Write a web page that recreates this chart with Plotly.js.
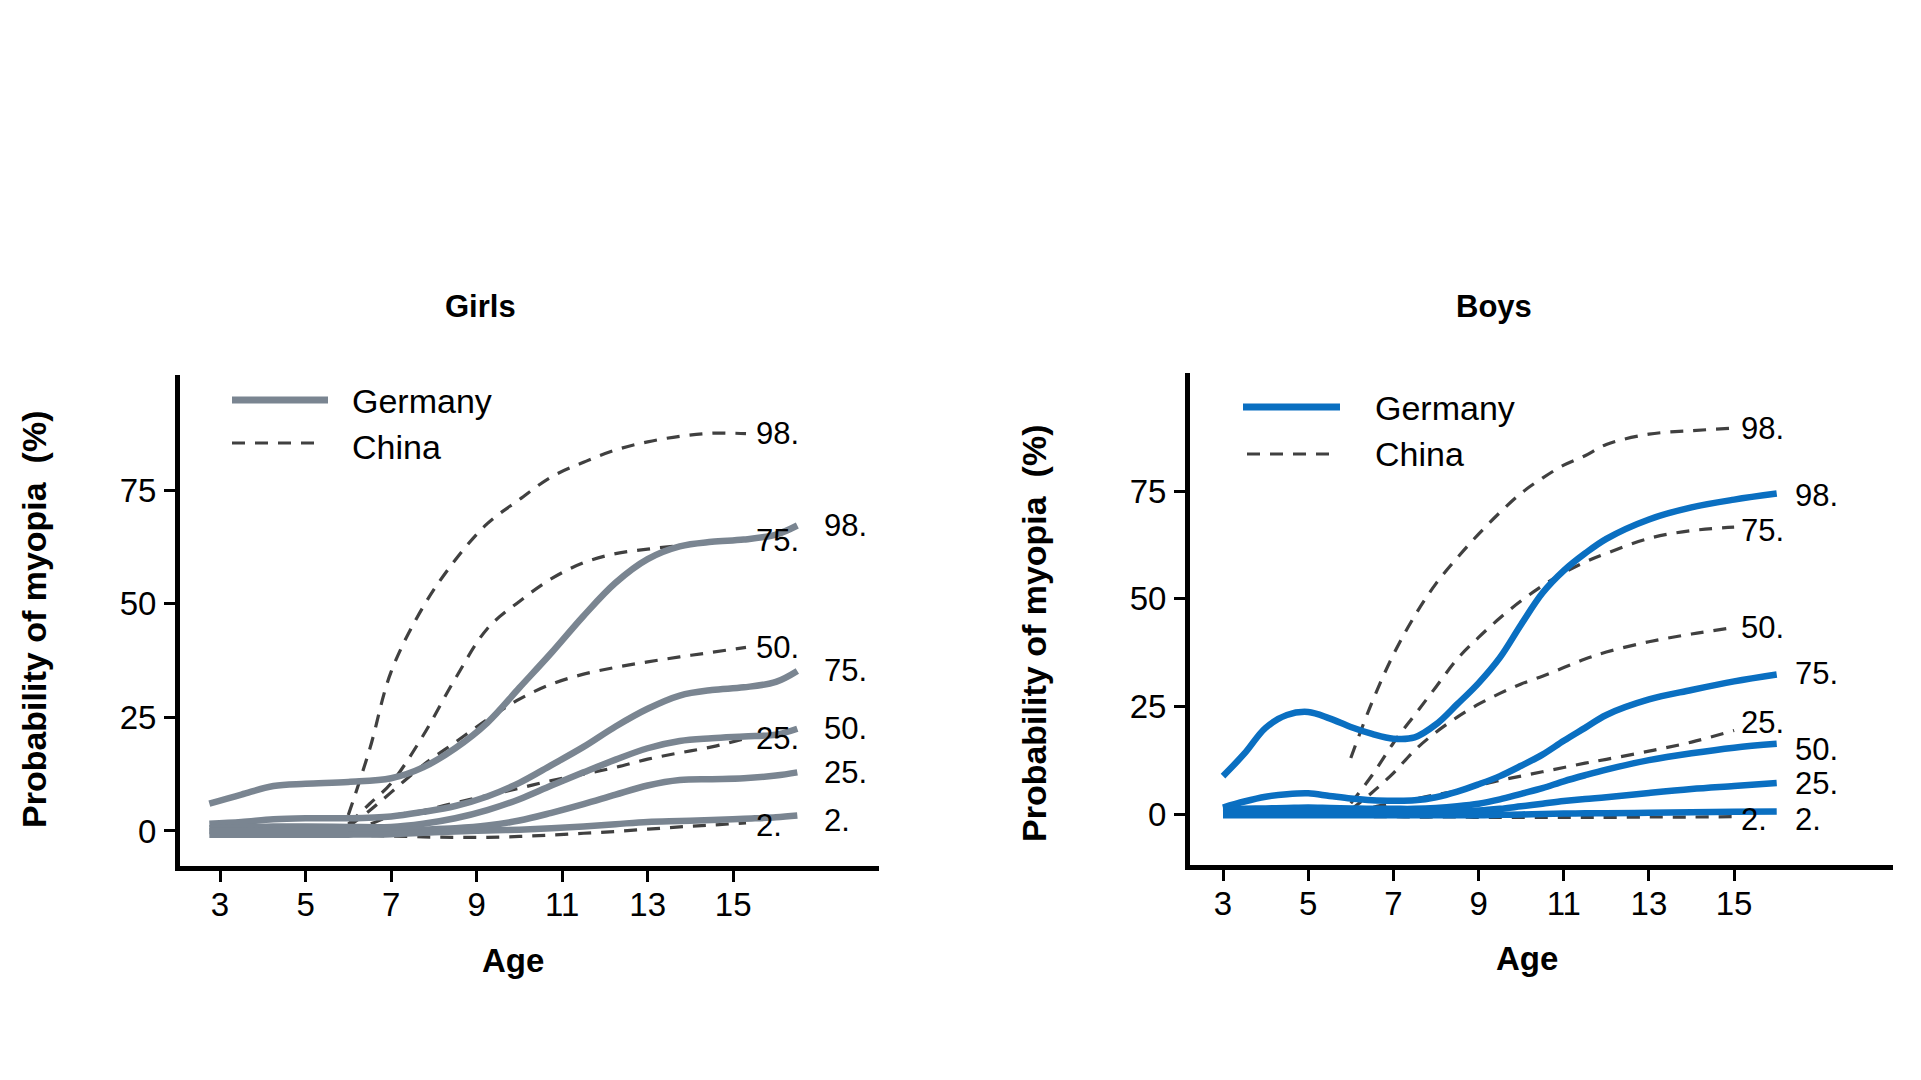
<!DOCTYPE html>
<html>
<head>
<meta charset="utf-8">
<script src="https://cdn.plot.ly/plotly-3.0.1.min.js"></script>
<style>html,body{margin:0;padding:0;background:#fff;}#chart{width:1921px;height:1080px;}</style>
</head>
<body>
<div id="chart"></div>
<script>
// ---------- data ----------
const percentileLabels = ['98.', '75.', '50.', '25.', '2.'];
const ageTicks = [3, 5, 7, 9, 11, 13, 15];
const probTicks = [0, 25, 50, 75];

// Girls, Germany (solid)
const girlsAgeDE = [2.75, 3.5, 4.25, 5, 6, 7, 7.75, 8.5, 9.25, 10, 10.75, 11.5, 12.25, 13, 13.75, 14.5, 15.25, 16, 16.5];
const girlsDE98 = [6.0, 8.0, 9.9, 10.4, 10.8, 11.6, 14.0, 18.2, 23.8, 31.5, 39.2, 47.3, 54.6, 59.8, 62.6, 63.6, 64.1, 65.2, 67.2];
const girlsDE75 = [1.6, 2.0, 2.6, 2.8, 2.8, 3.2, 4.2, 5.5, 7.6, 10.6, 14.5, 18.5, 23.0, 26.9, 29.8, 31.0, 31.6, 32.8, 35.2];
const girlsDE50 = [0.6, 0.8, 1.0, 1.0, 0.9, 0.9, 1.6, 2.8, 4.6, 7.0, 10.0, 12.9, 15.7, 18.2, 19.8, 20.4, 20.8, 21.2, 22.5];
const girlsDE25 = [0.0, 0.0, 0.1, 0.1, 0.1, 0.1, 0.3, 0.6, 1.2, 2.3, 4.0, 5.9, 8.0, 10.0, 11.2, 11.4, 11.6, 12.2, 12.9];
const girlsDE2  = [-0.8, -0.8, -0.8, -0.8, -0.8, -0.7, -0.4, -0.1, 0.1, 0.3, 0.6, 1.0, 1.5, 2.0, 2.2, 2.4, 2.7, 3.0, 3.4];

// Girls, China (dashed)
const girlsAgeCN = [6, 6.5, 7, 7.75, 8.5, 9.25, 10, 10.75, 11.5, 12.25, 13, 13.75, 14.5, 15.3];
const girlsCN98 = [3.5, 18.0, 35.0, 49.3, 59.6, 67.6, 72.9, 77.9, 81.1, 83.8, 85.6, 86.8, 87.5, 87.4];
const girlsCN75 = [1.5, 6.0, 10.5, 21.0, 33.5, 44.5, 50.5, 55.5, 59.0, 61.0, 62.0, 62.8, 63.6, 64.0];
const girlsCN50 = [1.0, 4.5, 8.5, 14.5, 19.5, 24.5, 29.0, 32.3, 34.5, 36.0, 37.2, 38.3, 39.3, 40.4];
const girlsCN25 = [0.5, 1.5, 3.3, 4.5, 6.2, 7.8, 9.4, 11.1, 12.5, 14.0, 15.8, 17.2, 18.5, 20.4];
const girlsCN2  = [-0.8, -1.0, -1.1, -1.3, -1.4, -1.4, -1.2, -0.9, -0.5, -0.1, 0.4, 0.9, 1.3, 1.8];

// Boys, Germany (solid)
const boysAgeDE = [3, 3.5, 4, 4.5, 5, 5.5, 6, 6.5, 7, 7.5, 8, 8.5, 9, 9.5, 10, 10.5, 11, 11.5, 12, 13, 14, 15, 16];
const boysDE98 = [8.8, 14.0, 20.0, 23.0, 23.7, 22.2, 20.2, 18.6, 17.5, 17.8, 20.8, 25.5, 30.4, 36.3, 44.0, 51.3, 56.5, 60.5, 63.9, 68.4, 71.2, 73.0, 74.4];
const boysDE75 = [1.5, 2.9, 4.0, 4.6, 4.8, 4.2, 3.6, 3.2, 3.1, 3.2, 3.9, 5.2, 6.9, 8.8, 11.2, 13.8, 17.0, 20.0, 23.0, 26.6, 28.8, 30.8, 32.4];
const boysDE50 = [1.0, 1.2, 1.3, 1.4, 1.5, 1.4, 1.3, 1.2, 1.2, 1.2, 1.4, 1.8, 2.4, 3.4, 4.7, 6.0, 7.6, 9.0, 10.3, 12.5, 14.1, 15.4, 16.3];
const boysDE25 = [0.3, 0.4, 0.5, 0.5, 0.5, 0.5, 0.5, 0.5, 0.5, 0.5, 0.6, 0.7, 0.8, 1.2, 1.8, 2.4, 3.0, 3.5, 3.9, 4.9, 5.8, 6.5, 7.2];
const boysDE2  = [-0.3, -0.3, -0.3, -0.3, -0.3, -0.3, -0.3, -0.3, -0.3, -0.3, -0.3, -0.3, -0.3, -0.2, -0.1, 0.0, 0.1, 0.2, 0.2, 0.3, 0.4, 0.5, 0.6];

// Boys, China (dashed)
const boysAgeCN = [6, 6.5, 7, 7.5, 8, 8.5, 9, 9.5, 10, 10.5, 11, 11.5, 12, 13, 14, 15];
const boysCN98 = [13.0, 26.0, 37.0, 46.0, 53.5, 59.5, 65.0, 70.0, 74.5, 78.0, 81.0, 83.2, 85.8, 88.2, 89.0, 89.6];
const boysCN75 = [2.5, 9.0, 16.5, 23.0, 29.5, 36.0, 41.0, 45.5, 49.5, 53.0, 56.0, 58.5, 60.5, 64.0, 65.8, 66.6];
const boysCN50 = [1.0, 5.0, 9.5, 14.8, 19.0, 22.5, 25.5, 28.0, 30.2, 32.0, 34.0, 36.0, 37.6, 40.0, 41.8, 43.3];
const boysCN25 = [0.5, 1.5, 2.6, 3.5, 4.5, 5.4, 6.6, 7.8, 8.8, 9.8, 10.8, 11.8, 12.7, 14.6, 16.7, 19.4];
const boysCN2  = [-0.5, -0.6, -0.6, -0.7, -0.7, -0.7, -0.8, -0.8, -0.8, -0.8, -0.8, -0.8, -0.8, -0.7, -0.7, -0.6];

// ---------- styling ----------
const FONT = 'Liberation Sans, Arial, Helvetica, sans-serif';
const GRAY = '#7a8591';
const BLUE = '#0a6fc1';
const DASH = '#404040';
const W = 1921, H = 1080;
const px = v => v / W;
const py = v => 1 - v / H;

// vertical nudges (px) of the end labels so they sit as in the reference
const girlsDENudge = [0, 0, 0, 0, -5];
const girlsCNNudge = [0, 0, 0, 0, -3];
const boysDENudge = [-2, 1, -6, 0, -8];
const boysCNNudge = [0, -3, 0, 8, -3];

const panels = [
  {xa: 'x', ya: 'y', ageDE: girlsAgeDE, de: [girlsDE98, girlsDE75, girlsDE50, girlsDE25, girlsDE2],
   ageCN: girlsAgeCN, cn: [girlsCN98, girlsCN75, girlsCN50, girlsCN25, girlsCN2], color: GRAY,
   deShift: 26, cnShift: 9, deNudge: girlsDENudge, cnNudge: girlsCNNudge},
  {xa: 'x2', ya: 'y2', ageDE: boysAgeDE, de: [boysDE98, boysDE75, boysDE50, boysDE25, boysDE2],
   ageCN: boysAgeCN, cn: [boysCN98, boysCN75, boysCN50, boysCN25, boysCN2], color: BLUE,
   deShift: 17, cnShift: 6, deNudge: boysDENudge, cnNudge: boysCNNudge}
];

const LABEL_SIZE = 31;
const traces = [];
const annotations = [];
panels.forEach(p => {
  p.cn.forEach((vals, i) => {
    traces.push({x: p.ageCN, y: vals, xaxis: p.xa, yaxis: p.ya, type: 'scatter', mode: 'lines',
      name: 'China ' + percentileLabels[i], line: {color: DASH, width: 3.2, dash: '13px,10px', shape: 'spline', smoothing: 1}, hoverinfo: 'skip'});
    annotations.push({xref: p.xa, yref: p.ya, x: p.ageCN[p.ageCN.length - 1], y: vals[vals.length - 1],
      text: percentileLabels[i], showarrow: false, xanchor: 'left', yanchor: 'middle', xshift: p.cnShift, yshift: p.cnNudge[i],
      borderpad: 0, font: {family: FONT, size: LABEL_SIZE, color: '#000'}});
  });
  p.de.forEach((vals, i) => {
    traces.push({x: p.ageDE, y: vals, xaxis: p.xa, yaxis: p.ya, type: 'scatter', mode: 'lines',
      name: 'Germany ' + percentileLabels[i], line: {color: p.color, width: 6.5, shape: 'spline', smoothing: 1}, hoverinfo: 'skip'});
    annotations.push({xref: p.xa, yref: p.ya, x: p.ageDE[p.ageDE.length - 1], y: vals[vals.length - 1],
      text: percentileLabels[i], showarrow: false, xanchor: 'left', yanchor: 'middle', xshift: p.deShift, yshift: p.deNudge[i],
      borderpad: 0, font: {family: FONT, size: LABEL_SIZE, color: '#000'}});
  });
});

// titles, axis titles and legends as paper annotations
function txt(t, x, y, size, bold, extra) {
  return Object.assign({xref: 'paper', yref: 'paper', x: px(x), y: py(y), text: bold ? '<b>' + t + '</b>' : t,
    showarrow: false, xanchor: 'center', yanchor: 'middle', font: {family: FONT, size: size, color: '#000'}}, extra || {});
}
annotations.push(txt('Girls', 480, 306, 31, true));
annotations.push(txt('Boys', 1494, 306, 31, true));
annotations.push(txt('Probability of myopia  (%)', 34, 620, 34, true, {textangle: -90}));
annotations.push(txt('Probability of myopia  (%)', 1034, 634, 34, true, {textangle: -90}));
annotations.push(txt('Age', 513, 960, 33, true));
annotations.push(txt('Age', 1527, 958, 33, true));
annotations.push(txt('Germany', 350, 401, 34, false, {xanchor: 'left'}));
annotations.push(txt('China', 350, 447, 34, false, {xanchor: 'left'}));
annotations.push(txt('Germany', 1373, 408, 34, false, {xanchor: 'left'}));
annotations.push(txt('China', 1373, 454, 34, false, {xanchor: 'left'}));

const shapes = [
  {type: 'line', xref: 'paper', yref: 'paper', x0: px(232), x1: px(328), y0: py(400), y1: py(400), line: {color: GRAY, width: 7}},
  {type: 'line', xref: 'paper', yref: 'paper', x0: px(232), x1: px(322), y0: py(443), y1: py(443), line: {color: DASH, width: 3.2, dash: '13px,10px'}},
  {type: 'line', xref: 'paper', yref: 'paper', x0: px(1243), x1: px(1340), y0: py(407), y1: py(407), line: {color: BLUE, width: 7}},
  {type: 'line', xref: 'paper', yref: 'paper', x0: px(1247), x1: px(1337), y0: py(454), y1: py(454), line: {color: DASH, width: 3.2, dash: '13px,10px'}}
];

function xAxis(domain, range, anchor) {
  return {domain: domain, range: range, anchor: anchor, tickvals: ageTicks, ticktext: ageTicks.map(String),
    ticks: 'outside', ticklen: 11, tickwidth: 3, tickcolor: '#000', showline: true, linewidth: 5, linecolor: '#000',
    showgrid: false, zeroline: false, ticklabelstandoff: -6, tickfont: {family: FONT, size: 33, color: '#000'}, fixedrange: true};
}
function yAxis(domain, range, anchor) {
  return {domain: domain, range: range, anchor: anchor, tickvals: probTicks, ticktext: probTicks.map(String),
    ticks: 'outside', ticklen: 11, tickwidth: 3, tickcolor: '#000', showline: true, linewidth: 5, linecolor: '#000',
    showgrid: false, zeroline: false, ticklabelstandoff: 1, tickfont: {family: FONT, size: 33, color: '#000'}, fixedrange: true};
}

const layout = {
  width: W, height: H, margin: {l: 0, r: 0, t: 0, b: 0}, paper_bgcolor: '#fff', plot_bgcolor: '#fff',
  showlegend: false,
  xaxis: xAxis([px(180), px(879)], [2.064, 18.41], 'y'),
  yaxis: yAxis([py(866), py(375)], [-7.7, 100.3], 'x'),
  xaxis2: xAxis([px(1190), px(1893)], [2.225, 18.73], 'y2'),
  yaxis2: yAxis([py(865), py(373)], [-11.84, 102.4], 'x2'),
  annotations: annotations,
  shapes: shapes
};

Plotly.newPlot('chart', traces, layout, {staticPlot: true, displayModeBar: false});
</script>
</body>
</html>
